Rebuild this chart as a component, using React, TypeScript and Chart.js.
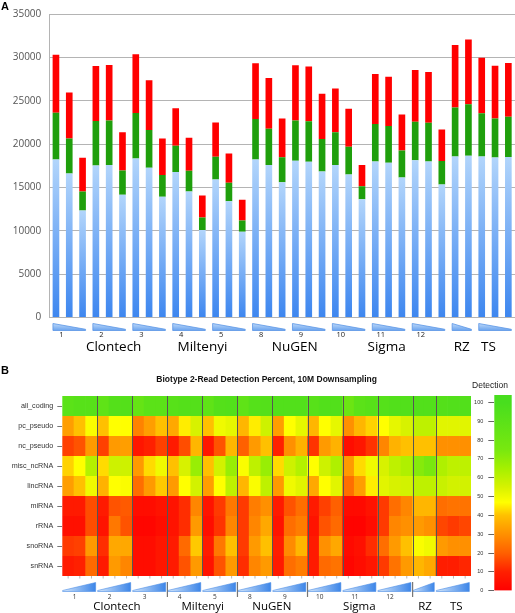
import React, { useEffect, useRef } from 'react';
import { Chart, registerables } from 'chart.js';

Chart.register(...registerables);

// ---------- groups / categories ----------
const groupNames = ['1', '2', '3', '4', '5', '8', '9', '10', '11', '12', 'RZ', 'TS'];
const groupSizes = [3, 3, 3, 3, 3, 3, 3, 3, 3, 3, 2, 3];
const groupNumberShown = [true, true, true, true, true, true, true, true, true, true, false, false];
const companyNames = ['Clontech', 'Miltenyi', 'NuGEN', 'Sigma', 'RZ', 'TS'];
const companyFirstGroup = [0, 3, 5, 7, 10, 11];
const companyLastGroup = [2, 4, 6, 9, 10, 11];

const sampleLabels = groupNames.flatMap((g, gi) =>
  Array.from({ length: groupSizes[gi] }, (_, k) => `${g}-${k + 1}`)
);

// ---------- panel A: stacked bar values ----------
const blueSeries = [
  18230, 16620, 12350, 17540, 17580, 14150, 18350, 17270, 13920, 16770, 14540, 10080,
  15920, 13420, 9880, 18230, 17580, 15600, 18080, 17960, 16850, 17580, 16500, 13650,
  18000, 17850, 16150, 18120, 18000, 15350, 18580, 18660, 18580, 18460, 18500,
];
const greenSeries = [
  5390, 4030, 2190, 5110, 5150, 2810, 5230, 4350, 2500, 3040, 2380, 1460,
  2620, 2120, 1310, 4650, 4190, 2880, 4650, 4660, 3730, 3770, 3190, 1500,
  4310, 4230, 3120, 4460, 4460, 2690, 5650, 5940, 4960, 4500, 4650,
];
const redSeries = [
  6690, 5310, 3880, 6350, 6390, 4390, 6770, 5730, 4230, 4310, 3810, 2540,
  3960, 3380, 2390, 6430, 5850, 4460, 6350, 6340, 5230, 5070, 4390, 2430,
  5770, 5690, 4150, 5960, 5850, 3650, 7190, 7470, 6420, 6080, 6200,
];

// ---------- panel B: heatmap (detection percent) ----------
const heatTitle = 'Biotype 2-Read Detection Percent, 10M Downsampling';
const rowNames = ['all_coding', 'pc_pseudo', 'nc_pseudo', 'misc_ncRNA', 'lincRNA', 'miRNA', 'rRNA', 'snoRNA', 'snRNA'];
const allCoding = [90, 92, 92, 88, 94, 94, 85, 90, 90, 92, 94, 94, 88, 94, 95, 88, 93, 94, 95, 95, 95, 92, 95, 95, 82, 90, 92, 93, 95, 95, 95, 95, 94, 95, 95];
const pcPseudo = [33, 40, 48, 40, 47, 47, 27, 33, 40, 35, 45, 55, 40, 50, 52, 38, 45, 57, 33, 47, 52, 38, 47, 52, 30, 38, 42, 47, 52, 55, 60, 60, 53, 53, 53];
const ncPseudo = [15, 18, 32, 15, 32, 33, 7, 10, 15, 8, 17, 38, 7, 18, 38, 20, 32, 40, 10, 30, 37, 13, 32, 37, 4, 7, 13, 28, 37, 40, 40, 40, 30, 30, 30];
const miscNcRNA = [42, 47, 62, 43, 57, 57, 32, 43, 50, 40, 55, 68, 40, 56, 68, 48, 60, 68, 43, 57, 62, 47, 57, 63, 32, 43, 50, 55, 60, 63, 72, 75, 63, 60, 60];
const lincRNA = [33, 40, 50, 37, 47, 48, 23, 32, 41, 32, 47, 56, 33, 47, 60, 38, 48, 60, 32, 50, 53, 35, 47, 53, 23, 33, 45, 53, 55, 56, 60, 60, 58, 56, 56];
const miRNA = [8, 8, 17, 8, 18, 19, 4, 4, 6, 6, 12, 28, 6, 14, 25, 14, 26, 30, 8, 18, 23, 8, 15, 20, 3, 3, 6, 14, 23, 28, 38, 38, 23, 24, 24];
const rRNA = [5, 5, 17, 6, 25, 18, 2, 2, 4, 6, 12, 32, 4, 13, 28, 14, 28, 35, 6, 23, 26, 6, 18, 22, 1, 1, 4, 14, 28, 30, 32, 30, 16, 14, 16];
const snoRNA = [14, 15, 32, 12, 35, 35, 4, 4, 7, 8, 22, 41, 8, 25, 40, 14, 32, 40, 9, 29, 38, 8, 30, 35, 3, 5, 12, 23, 32, 40, 48, 50, 32, 30, 30];
const snRNA = [8, 10, 22, 8, 32, 28, 4, 4, 7, 8, 18, 32, 6, 18, 32, 12, 28, 32, 8, 23, 26, 8, 22, 24, 2, 4, 7, 14, 24, 32, 38, 35, 9, 9, 11];
const heatRows = [allCoding, pcPseudo, ncPseudo, miscNcRNA, lincRNA, miRNA, rRNA, snoRNA, snRNA];

// ---------- styling (layout constants, not data) ----------
const FONT = '"Open Sans", "Liberation Sans", sans-serif';
const ARIAL = '"Liberation Sans", Arial, sans-serif';
const TOP_LABEL_NUDGE = [4.5, -6.5, 6, -2, 0, -6.5];
const BOTTOM_LABEL_NUDGE = [2.7, 1, 0, 0, 1.5, 3.5];

const STOPS: [number, number[]][] = [
  [0, [255, 0, 0]],
  [10, [255, 32, 0]],
  [20, [255, 96, 0]],
  [30, [255, 144, 0]],
  [40, [255, 192, 0]],
  [47, [255, 255, 0]],
  [55, [215, 242, 0]],
  [65, [165, 240, 0]],
  [75, [120, 232, 15]],
  [100, [72, 222, 30]],
];
function heatColor(v: number): string {
  for (let i = 1; i < STOPS.length; i++) {
    if (v <= STOPS[i][0]) {
      const [a, ca] = STOPS[i - 1];
      const [b, cb] = STOPS[i];
      const t = (v - a) / (b - a);
      const c = ca.map((x, k) => Math.round(x + (cb[k] - x) * t));
      return `rgb(${c[0]},${c[1]},${c[2]})`;
    }
  }
  const c = STOPS[STOPS.length - 1][1];
  return `rgb(${c[0]},${c[1]},${c[2]})`;
}

function groupRanges() {
  const out: [number, number][] = [];
  let s = 0;
  groupSizes.forEach((n) => {
    out.push([s, s + n - 1]);
    s += n;
  });
  return out;
}

// ---------- plugins ----------
const topDecor = {
  id: 'topDecor',
  afterDraw(chart: any) {
    const { ctx, chartArea: ca } = chart;
    const x = chart.scales.x;
    const b = ca.bottom;
    const spans: [number, number][] = [];
    ctx.save();
    groupRanges().forEach(([first, last], gi) => {
      const x0 = x.getPixelForValue(first) - 3;
      const x1 = x.getPixelForValue(last) + 3;
      spans.push([x0, x1]);
      const grad = ctx.createLinearGradient(0, b + 6, 0, b + 13);
      grad.addColorStop(0, '#bcd8f9');
      grad.addColorStop(1, '#6aa3ee');
      ctx.beginPath();
      ctx.moveTo(x0, b + 6);
      ctx.lineTo(x1, b + 11.8);
      ctx.lineTo(x1, b + 13);
      ctx.lineTo(x0, b + 13);
      ctx.closePath();
      ctx.fillStyle = grad;
      ctx.fill();
      ctx.strokeStyle = '#5a96e6';
      ctx.lineWidth = 0.8;
      ctx.stroke();
      if (groupNumberShown[gi]) {
        ctx.fillStyle = '#222';
        ctx.font = `7.5px ${FONT}`;
        ctx.textAlign = 'center';
        ctx.textBaseline = 'middle';
        ctx.fillText(groupNames[gi], x.getPixelForValue(first) + 5.5, b + 17.3);
      }
    });
    ctx.fillStyle = '#000';
    ctx.font = `13.5px ${FONT}`;
    ctx.textAlign = 'center';
    ctx.textBaseline = 'middle';
    companyNames.forEach((name, i) => {
      const cx = (spans[companyFirstGroup[i]][0] + spans[companyLastGroup[i]][1]) / 2 + TOP_LABEL_NUDGE[i];
      ctx.fillText(name, cx, b + 30);
    });
    ctx.restore();
  },
};

const heatDecor = {
  id: 'heatDecor',
  afterDatasetsDraw(chart: any) {
    const { ctx, chartArea: ca } = chart;
    const x = chart.scales.x;
    ctx.save();
    ctx.strokeStyle = '#555';
    ctx.lineWidth = 1;
    const ranges = groupRanges();
    ranges.slice(0, -1).forEach(([, last]) => {
      const bx = Math.round((x.getPixelForValue(last) + x.getPixelForValue(last + 1)) / 2) + 0.5;
      ctx.beginPath();
      ctx.moveTo(bx, ca.top);
      ctx.lineTo(bx, ca.bottom);
      ctx.stroke();
    });
    ctx.restore();
  },
  afterDraw(chart: any) {
    const { ctx, chartArea: ca } = chart;
    const x = chart.scales.x;
    const b = ca.bottom;
    const colW = ca.width / sampleLabels.length;
    ctx.save();
    // title
    ctx.fillStyle = '#111';
    ctx.font = `bold 8.5px ${ARIAL}`;
    ctx.textAlign = 'center';
    ctx.textBaseline = 'middle';
    ctx.fillText(heatTitle, (ca.left + ca.right) / 2, 19.3);
    // small ticks
    ctx.strokeStyle = '#999';
    ctx.lineWidth = 0.7;
    sampleLabels.forEach((_, i) => {
      const px = x.getPixelForValue(i);
      ctx.beginPath();
      ctx.moveTo(px, b);
      ctx.lineTo(px, b + 2.5);
      ctx.stroke();
    });
    const spans: [number, number][] = [];
    groupRanges().forEach(([first, last], gi) => {
      const x0 = x.getPixelForValue(first) - colW / 2 + 0.3;
      const x1 = x.getPixelForValue(last) + colW / 2 - 1.7;
      spans.push([x0, x1]);
      const grad = ctx.createLinearGradient(x0, 0, x1, 0);
      grad.addColorStop(0, '#d3e6fb');
      grad.addColorStop(1, '#3c85e8');
      ctx.beginPath();
      ctx.moveTo(x0, b + 14.5);
      ctx.lineTo(x1, b + 6.5);
      ctx.lineTo(x1, b + 15.5);
      ctx.lineTo(x0, b + 15.5);
      ctx.closePath();
      ctx.fillStyle = grad;
      ctx.fill();
      ctx.strokeStyle = '#4c8de6';
      ctx.lineWidth = 0.6;
      ctx.stroke();
      if (groupNumberShown[gi]) {
        ctx.fillStyle = '#333';
        ctx.font = `6.5px ${FONT}`;
        ctx.textAlign = 'center';
        ctx.textBaseline = 'middle';
        ctx.fillText(groupNames[gi], (x0 + x1) / 2 - 4.5, b + 20.7);
      }
    });
    // company separators
    ctx.strokeStyle = '#777';
    ctx.lineWidth = 1.2;
    companyLastGroup.slice(0, -2).forEach((g) => {
      const last = groupRanges()[g][1];
      const bx = (x.getPixelForValue(last) + x.getPixelForValue(last + 1)) / 2;
      ctx.beginPath();
      ctx.moveTo(bx, b + 6);
      ctx.lineTo(bx, b + 21);
      ctx.stroke();
    });
    ctx.fillStyle = '#000';
    ctx.font = `11.5px ${FONT}`;
    ctx.textAlign = 'center';
    ctx.textBaseline = 'middle';
    companyNames.forEach((name, i) => {
      const cx = (spans[companyFirstGroup[i]][0] + spans[companyLastGroup[i]][1]) / 2 + BOTTOM_LABEL_NUDGE[i];
      ctx.fillText(name, cx, b + 30.7);
    });
    ctx.restore();
  },
};

const barDecor = {
  id: 'barDecor',
  afterDraw(chart: any) {
    const { ctx, chartArea: ca } = chart;
    ctx.save();
    ctx.fillStyle = '#222';
    ctx.font = `8.5px ${ARIAL}`;
    ctx.textAlign = 'center';
    ctx.textBaseline = 'middle';
    ctx.fillText('Detection', ca.left - 4.3, 15.5);
    ctx.restore();
  },
};

const CB_MAX = 104;

export default function App() {
  const barRef = useRef<HTMLCanvasElement>(null);
  const heatRef = useRef<HTMLCanvasElement>(null);
  const cbRef = useRef<HTMLCanvasElement>(null);

  useEffect(() => {
    const charts: Chart[] = [];

    // ---- Panel A ----
    const blueGrad = (c: any) => {
      const chart = c.chart;
      const ys = chart.scales && chart.scales.y;
      if (!ys || c.type !== 'data') return '#8fbff6';
      const top = ys.getPixelForValue(blueSeries[c.dataIndex]);
      const bot = ys.getPixelForValue(0);
      if (!isFinite(top) || !isFinite(bot) || top === bot) return '#8fbff6';
      const g = chart.ctx.createLinearGradient(0, top, 0, bot);
      g.addColorStop(0, '#b2d5fb');
      g.addColorStop(1, '#3d86ef');
      return g;
    };
    charts.push(
      new Chart(barRef.current!, {
        type: 'bar',
        data: {
          labels: sampleLabels,
          datasets: [
            { label: 'blue', data: blueSeries, backgroundColor: blueGrad as any, borderWidth: 0 },
            { label: 'green', data: greenSeries, backgroundColor: '#1f9f0c', borderWidth: 0 },
            { label: 'red', data: redSeries, backgroundColor: '#ff0000', borderWidth: 0 },
          ],
        },
        options: {
          responsive: false,
          animation: false,
          events: [],
          layout: { padding: { top: 13, bottom: 42.5, left: 0, right: 0 } },
          datasets: { bar: { barPercentage: 0.5, categoryPercentage: 1 } },
          plugins: { legend: { display: false }, tooltip: { enabled: false }, title: { display: false } },
          scales: {
            x: { stacked: true, display: false },
            y: {
              stacked: true,
              min: 0,
              max: 35000,
              ticks: {
                stepSize: 5000,
                color: '#555',
                font: { family: FONT, size: 10 },
                padding: 8,
                callback: (v: any) => String(v),
              },
              grid: { color: '#b4b4b4', drawTicks: false, lineWidth: 1 },
              border: { display: true, color: '#b4b4b4' },
              afterFit: (s: any) => {
                s.width = 49.3;
              },
            },
          },
        },
        plugins: [topDecor],
      } as any)
    );

    // ---- Panel B heatmap ----
    charts.push(
      new Chart(heatRef.current!, {
        type: 'bar',
        data: {
          labels: sampleLabels,
          datasets: heatRows.map((vals, r) => ({
            label: rowNames[r],
            data: vals.map(() => [r, r + 1]),
            backgroundColor: vals.map(heatColor),
            borderWidth: 0,
            grouped: false,
          })),
        },
        options: {
          responsive: false,
          animation: false,
          events: [],
          layout: { padding: { top: 36, bottom: 37, left: 0, right: 44 } },
          datasets: { bar: { barPercentage: 1.05, categoryPercentage: 1 } },
          plugins: { legend: { display: false }, tooltip: { enabled: false } },
          scales: {
            x: { display: false },
            y: {
              type: 'linear',
              min: 0,
              max: rowNames.length,
              reverse: true,
              afterBuildTicks: (s: any) => {
                s.ticks = rowNames.map((_, i) => ({ value: i + 0.5 }));
              },
              ticks: {
                autoSkip: false,
                callback: (_v: any, i: number) => rowNames[i],
                color: '#333',
                font: { family: ARIAL, size: 7.2 },
                padding: 4,
              },
              grid: { drawOnChartArea: false, drawTicks: true, tickLength: 5, color: '#777' },
              border: { display: false },
              afterFit: (s: any) => {
                s.width = 62.3;
              },
            },
          },
        },
        plugins: [heatDecor],
      } as any)
    );

    // ---- colour bar ----
    const cbGrad = (c: any) => {
      const chart = c.chart;
      const ys = chart.scales && chart.scales.y;
      if (!ys) return '#ffff00';
      const top = ys.getPixelForValue(CB_MAX);
      const bot = ys.getPixelForValue(0);
      if (!isFinite(top) || !isFinite(bot) || top === bot) return '#ffff00';
      const g = chart.ctx.createLinearGradient(0, bot, 0, top);
      STOPS.forEach(([v]) => g.addColorStop(v / CB_MAX, heatColor(v)));
      g.addColorStop(1, heatColor(100));
      return g;
    };
    charts.push(
      new Chart(cbRef.current!, {
        type: 'bar',
        data: {
          labels: ['Detection'],
          datasets: [{ label: 'Detection', data: [[0, CB_MAX]], backgroundColor: cbGrad as any, borderWidth: 0 }],
        },
        options: {
          responsive: false,
          animation: false,
          events: [],
          layout: { padding: { top: 25, bottom: 19.3, left: 0, right: 3.3 } },
          datasets: { bar: { barPercentage: 1, categoryPercentage: 1 } },
          plugins: { legend: { display: false }, tooltip: { enabled: false } },
          scales: {
            x: { display: false },
            y: {
              min: 0,
              max: CB_MAX,
              afterBuildTicks: (s: any) => {
                s.ticks = s.ticks.filter((t: any) => t.value <= 100 && t.value % 10 === 0);
              },
              ticks: { stepSize: 10, color: '#333', font: { family: ARIAL, size: 5.5 }, padding: 5 },
              grid: { drawOnChartArea: false, drawTicks: true, tickLength: 6, color: '#666' },
              border: { display: false },
              afterFit: (s: any) => {
                s.width = 39.3;
              },
            },
          },
        },
        plugins: [barDecor],
      } as any)
    );

    return () => charts.forEach((c) => c.destroy());
  }, []);

  return (
    <div style={{ position: 'fixed', left: 0, top: 0, width: 515, height: 613, background: '#fff', overflow: 'hidden' }}>
      <canvas ref={barRef} width={515} height={360} style={{ position: 'absolute', left: 0, top: 0, width: 515, height: 360 }} />
      <canvas ref={heatRef} width={515} height={253} style={{ position: 'absolute', left: 0, top: 360, width: 515, height: 253 }} />
      <canvas ref={cbRef} width={60} height={240} style={{ position: 'absolute', left: 455, top: 370, width: 60, height: 240 }} />
      <div style={{ position: 'absolute', left: 1, top: 0, font: `bold 11px ${ARIAL}`, color: '#000' }}>A</div>
      <div style={{ position: 'absolute', left: 1, top: 364, font: `bold 11px ${ARIAL}`, color: '#000' }}>B</div>
    </div>
  );
}
